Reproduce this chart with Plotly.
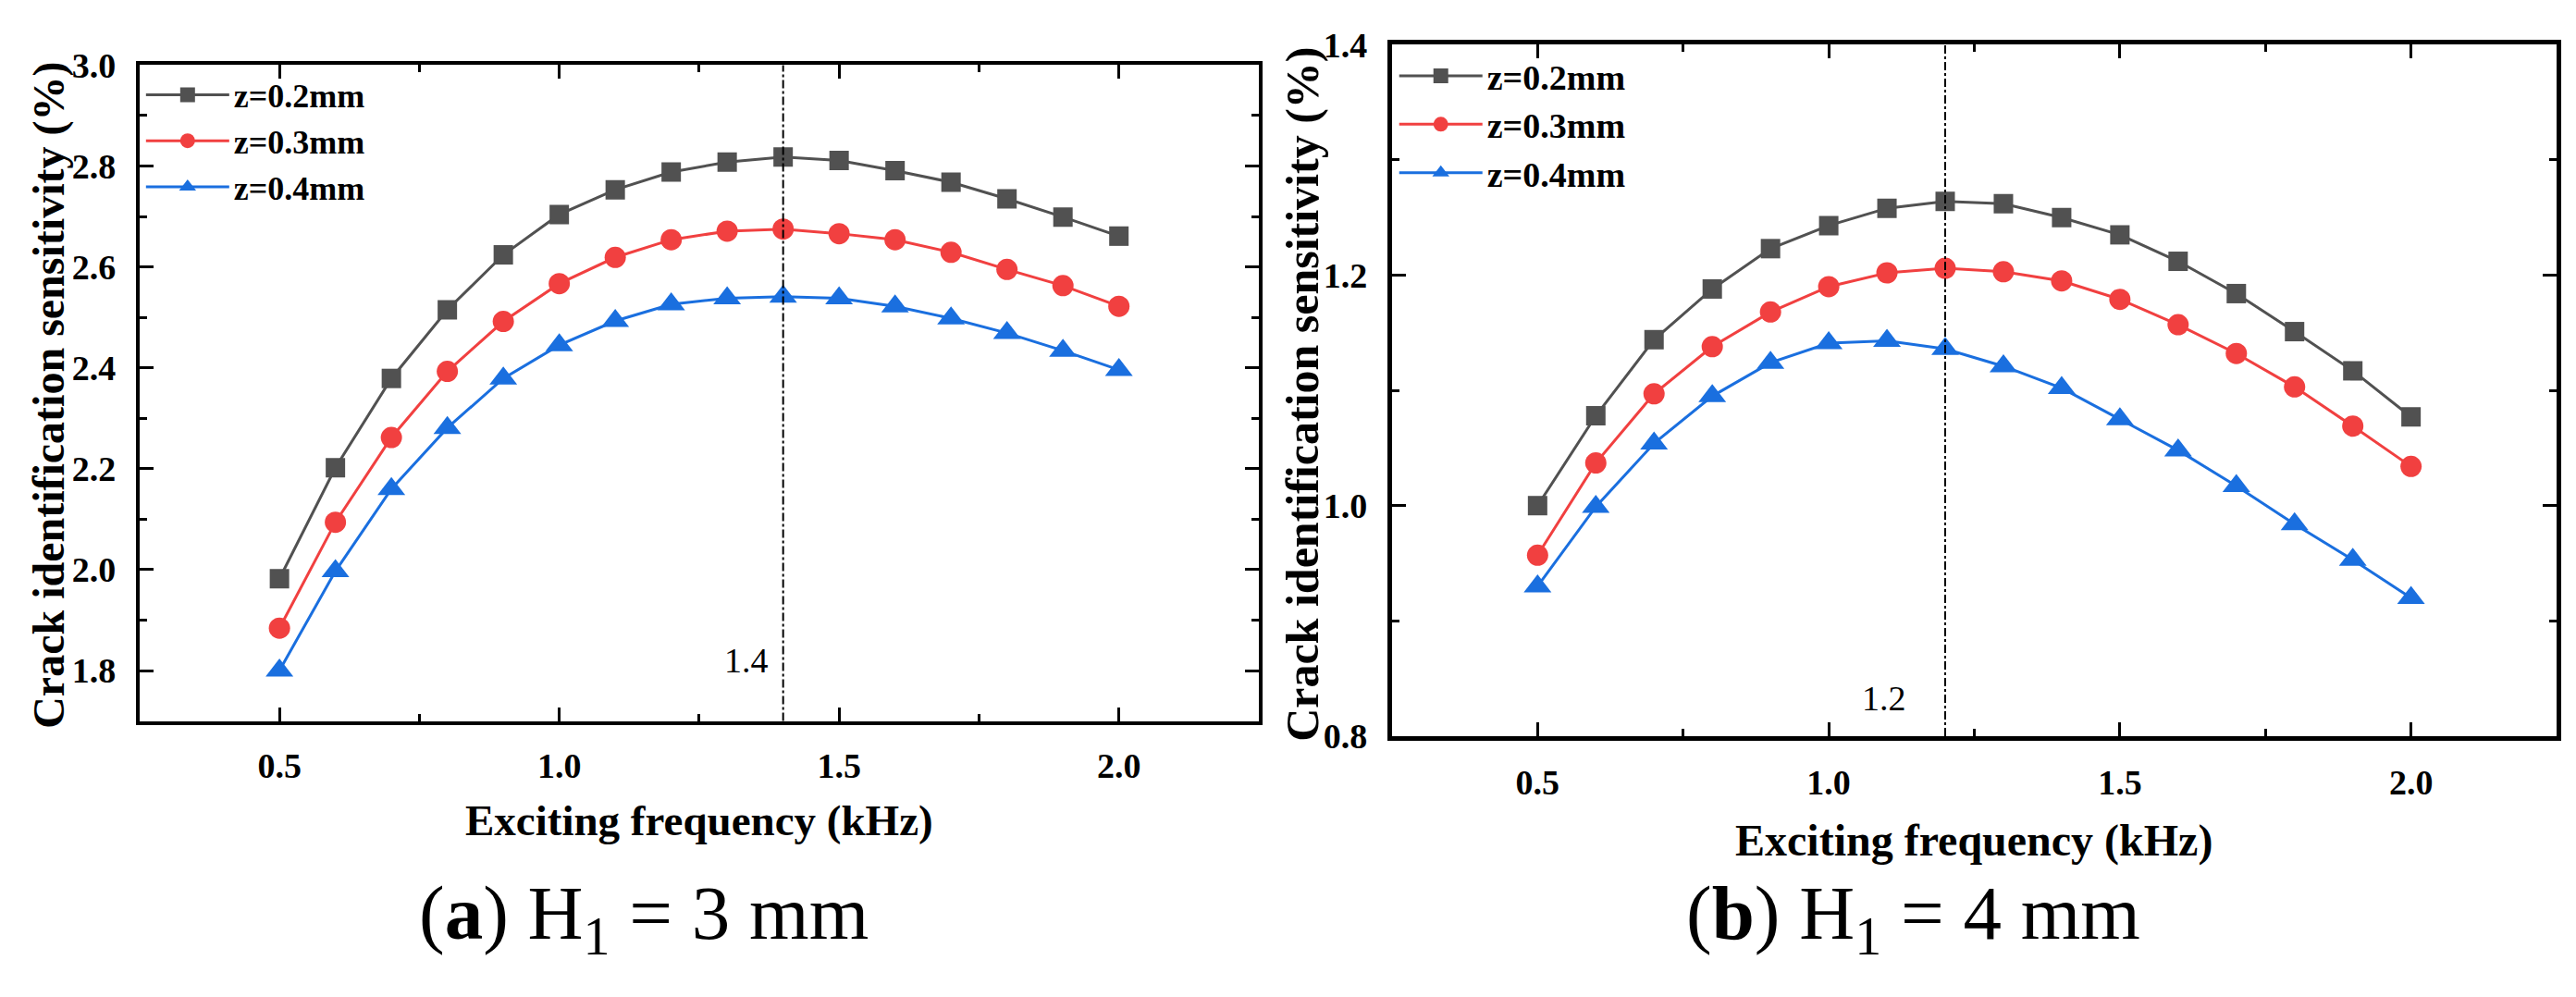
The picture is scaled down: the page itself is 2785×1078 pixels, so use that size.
import plotly.graph_objects as go

# exciting frequency (kHz), shared by both panels
freq = [0.5, 0.6, 0.7, 0.8, 0.9, 1.0, 1.1, 1.2, 1.3, 1.4, 1.5, 1.6, 1.7, 1.8, 1.9, 2.0]

# (a) H1 = 3 mm
a_z02 = [1.982, 2.202, 2.379, 2.515, 2.624, 2.704, 2.753, 2.788, 2.808, 2.818, 2.811, 2.791, 2.768, 2.735, 2.699, 2.661]
a_z03 = [1.884, 2.094, 2.262, 2.393, 2.492, 2.567, 2.619, 2.654, 2.671, 2.675, 2.666, 2.654, 2.629, 2.595, 2.563, 2.522]
a_z04 = [1.800, 1.997, 2.160, 2.281, 2.379, 2.445, 2.493, 2.526, 2.538, 2.541, 2.538, 2.522, 2.498, 2.469, 2.434, 2.396]

# (b) H1 = 4 mm
b_z02 = [1.000, 1.078, 1.144, 1.188, 1.223, 1.243, 1.258, 1.264, 1.262, 1.250, 1.235, 1.212, 1.184, 1.151, 1.117, 1.077]
b_z03 = [0.957, 1.037, 1.097, 1.138, 1.168, 1.190, 1.202, 1.206, 1.203, 1.195, 1.179, 1.157, 1.132, 1.103, 1.069, 1.034]
b_z04 = [0.930, 0.999, 1.054, 1.095, 1.124, 1.141, 1.143, 1.136, 1.121, 1.102, 1.075, 1.048, 1.017, 0.984, 0.953, 0.920]

series_names = ["z=0.2mm", "z=0.3mm", "z=0.4mm"]
peak_freq = [1.4, 1.2]
captions = ["(<b>a</b>) H<sub>1</sub> = 3 mm", "(<b>b</b>) H<sub>1</sub> = 4 mm"]

colors = ["#515151", "#F14040", "#1A6FDF"]
symbols = ["square", "circle", "triangle-up"]
msizes = [21, 23, 26]
FONT = "Liberation Serif"
W, H = 2785, 1078

fig = go.Figure()

panels = [(a_z02, a_z03, a_z04), (b_z02, b_z03, b_z04)]
for p, ys in enumerate(panels):
    for k, y in enumerate(ys):
        fig.add_trace(go.Scatter(
            x=freq, y=y, name=series_names[k], mode="lines+markers",
            line=dict(color=colors[k], width=3),
            marker=dict(symbol=symbols[k], size=msizes[k], color=colors[k]),
            xaxis="x" if p == 0 else "x2",
            yaxis="y" if p == 0 else "y2",
            legend="legend" if p == 0 else "legend2",
        ))

tickfont = dict(family=FONT, size=38, color="black", weight="bold")


def axis_style(lw):
    return dict(
        showgrid=False, zeroline=False, showline=True, linecolor="black", linewidth=lw,
        mirror="allticks", ticks="inside", ticklen=15, tickwidth=3, tickcolor="black",
        tickfont=tickfont, tickformat=".1f",
    )


xa = dict(range=[0.25, 2.25], tick0=0.5, dtick=0.5, ticklabelstandoff=12,
          minor=dict(ticks="inside", dtick=0.25, ticklen=8, tickwidth=3, tickcolor="black"))
ymin = dict(ticks="inside", dtick=0.1, ticklen=8, tickwidth=3, tickcolor="black")


def legend_style(size):
    return dict(xanchor="left", yanchor="top", bgcolor="rgba(0,0,0,0)",
                font=dict(family=FONT, size=size, weight="bold"), itemwidth=90,
                tracegroupgap=0)


fig.update_layout(
    width=W, height=H,
    margin=dict(l=0, r=0, t=0, b=0),
    paper_bgcolor="white", plot_bgcolor="white",
    font=dict(family=FONT, color="black"),
    xaxis=dict(domain=[0.0513, 0.4858], anchor="y", **xa, **axis_style(4)),
    yaxis=dict(domain=[0.2755, 0.960], anchor="x", range=[1.7, 3.0], dtick=0.2, tick0=1.8,
               ticklabelstandoff=14, minor=ymin, **axis_style(4)),
    xaxis2=dict(domain=[0.5375, 0.9896], anchor="y2", **xa, **axis_style(5)),
    yaxis2=dict(domain=[0.2597, 0.9814], anchor="x2", range=[0.8, 1.4], dtick=0.2, tick0=0.8,
                ticklabelstandoff=14, minor=ymin, **axis_style(5)),
    legend=dict(x=0.052, y=0.958, **legend_style(36)),
    legend2=dict(x=0.5385, y=0.979, **legend_style(38)),
)

# vertical reference lines at the peak frequencies
for p, xf in enumerate(peak_freq):
    fig.add_shape(type="line", x0=xf, x1=xf, y0=0, y1=1,
                  xref="x" if p == 0 else "x2", yref="y domain" if p == 0 else "y2 domain",
                  line=dict(color="black", width=2, dash="dashdot"))

fig.add_annotation(x=peak_freq[0], y=1.82, xref="x", yref="y", text=f"{peak_freq[0]}",
                   showarrow=False, xanchor="right", yanchor="middle", xshift=-14,
                   font=dict(family=FONT, size=38, color="black"))
fig.add_annotation(x=peak_freq[1], y=0.833, xref="x2", yref="y2", text=f"{peak_freq[1]}",
                   showarrow=False, xanchor="right", yanchor="middle", xshift=-40,
                   font=dict(family=FONT, size=38, color="black"))


def paper_text(px, py, text, font, angle=0):
    fig.add_annotation(x=px / W, y=1 - py / H, xref="paper", yref="paper", text=text,
                       textangle=angle, showarrow=False, xanchor="center", yanchor="middle",
                       font=font)


# axis titles
ytitle = "Crack identification sensitivity (%)"
xtitle = "Exciting frequency (kHz)"
paper_text(45, 415, ytitle, dict(family=FONT, size=48, color="black", weight="bold"), angle=-90)
paper_text(1400, 414, ytitle, dict(family=FONT, size=50, color="black", weight="bold"), angle=-90)
paper_text(748, 893, xtitle, dict(family=FONT, size=47, color="black", weight="bold"))
paper_text(2126, 916, xtitle, dict(family=FONT, size=48, color="black", weight="bold"))

# panel captions
cap_font = dict(family=FONT, size=83, color="black")
paper_text(688, 1003, captions[0], cap_font)
paper_text(2060, 1003, captions[1], cap_font)

fig.write_html("out.html")
